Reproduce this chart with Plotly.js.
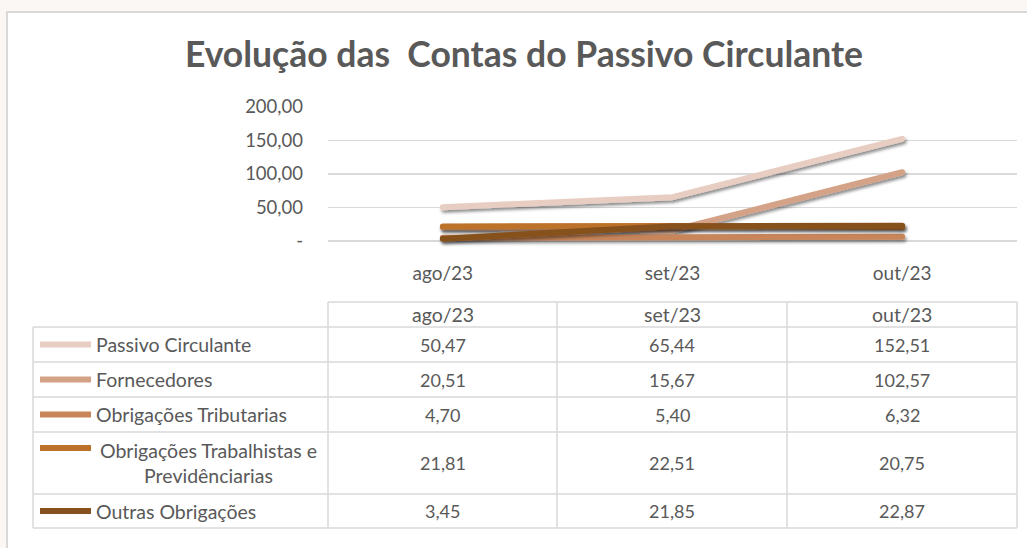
<!DOCTYPE html>
<html>
<head>
<meta charset="utf-8">
<script src="https://cdn.plot.ly/plotly-3.0.1.min.js"></script>
<style>
html,body{margin:0;padding:0;background:#fff;}
#chart{width:1027px;height:548px;}
.scatterlayer .js-line{filter:url(#sh);stroke-linecap:round;stroke-linejoin:round;}
</style>
</head>
<body>
<svg width="0" height="0" style="position:absolute">
  <defs>
    <filter id="sh" filterUnits="userSpaceOnUse" x="-200" y="-400" width="1500" height="1200">
      <feDropShadow dx="1.5" dy="2.5" stdDeviation="1.5" flood-color="#000" flood-opacity="0.45"/>
    </filter>
  </defs>
</svg>
<div id="chart"></div>
<script>
// ---- data ----
const categories = ['ago/23', 'set/23', 'out/23'];
const seriesNames = ['Passivo Circulante', 'Fornecedores', 'Obrigações Tributarias', 'Obrigações Trabalhistas e<br>Previdênciarias', 'Outras Obrigações'];
const passivoCirculante = [50.47, 65.44, 152.51];
const fornecedores = [20.51, 15.67, 102.57];
const obrigacoesTributarias = [4.70, 5.40, 6.32];
const obrigacoesTrabalhistas = [21.81, 22.51, 20.75];
const outrasObrigacoes = [3.45, 21.85, 22.87];
const yTickVals = [0, 50, 100, 150, 200];
const yTickText = ['-', '50,00', '100,00', '150,00', '200,00'];
const titleText = 'Evolução das  Contas do Passivo Circulante';

// ---- styling ----
const colors = ['#E8CDC2', '#D4A287', '#C8855A', '#BD7229', '#87511E'];
const seriesValues = [passivoCirculante, fornecedores, obrigacoesTributarias, obrigacoesTrabalhistas, outrasObrigacoes];
const W = 1027, H = 548;
const FONT = 'Lato, "Open Sans", sans-serif';
const TXT = '#595959';
const GRID = '#D9D9D9';
const px = x => x / W;
const py = y => 1 - y / H;

const traces = seriesValues.map((vals, i) => ({
  type: 'scatter', mode: 'lines', x: categories, y: vals,
  name: seriesNames[i], line: {color: colors[i], width: 6}, hoverinfo: 'skip'
}));

// table geometry (pixels)
const tblLeft = 33, labelRight = 328, colEdges = [328, 557, 787, 1017];
const headerTop = 302, rowEdges = [327, 362, 397, 432, 494, 528];
const shapes = [];
const annotations = [];
const ln = (x0, y0, x1, y1, c, w) => ({type: 'line', xref: 'paper', yref: 'paper', x0: px(x0), y0: py(y0), x1: px(x1), y1: py(y1), line: {color: c, width: w}, layer: 'below'});

// outer frame
shapes.push({type: 'rect', xref: 'paper', yref: 'paper', x0: px(7), y0: py(12), x1: px(1045), y1: py(570), fillcolor: '#FFFFFF', line: {color: '#D9D9D9', width: 2}, layer: 'below'});

// table lines
shapes.push(ln(labelRight, headerTop, colEdges[3], headerTop, GRID, 1.5));
rowEdges.forEach(y => shapes.push(ln(tblLeft, y, colEdges[3], y, GRID, 1.5)));
shapes.push(ln(tblLeft, rowEdges[0], tblLeft, rowEdges[rowEdges.length - 1], GRID, 1.5));
colEdges.forEach(x => shapes.push(ln(x, headerTop, x, rowEdges[rowEdges.length - 1], GRID, 1.5)));

const fmt = v => v.toFixed(2).replace('.', ',');
const nFont = {family: FONT, size: 18, color: TXT};
const lFont = {family: FONT, size: 19.5, color: TXT};
// header
categories.forEach((c, j) => {
  annotations.push({xref: 'paper', yref: 'paper', x: px((colEdges[j] + colEdges[j + 1]) / 2), y: py((headerTop + rowEdges[0]) / 2), text: c, showarrow: false, font: lFont, xanchor: 'center', yanchor: 'middle'});
});
// rows
seriesValues.forEach((vals, i) => {
  const yc = (rowEdges[i] + rowEdges[i + 1]) / 2;
  const multi = seriesNames[i].indexOf('<br>') >= 0;
  const keyY = multi ? rowEdges[i] + 16 : yc;
  shapes.push({type: 'line', xref: 'paper', yref: 'paper', x0: px(40), x1: px(91), y0: py(keyY), y1: py(keyY), line: {color: colors[i], width: 6}});
  annotations.push({xref: 'paper', yref: 'paper', x: multi ? px(208) : px(94), y: py(yc), text: seriesNames[i], showarrow: false, font: lFont, xanchor: multi ? 'center' : 'left', yanchor: 'middle', align: 'center'});
  vals.forEach((v, j) => {
    annotations.push({xref: 'paper', yref: 'paper', x: px((colEdges[j] + colEdges[j + 1]) / 2), y: py(yc), text: fmt(v), showarrow: false, font: nFont, xanchor: 'center', yanchor: 'middle'});
  });
});

// y range: 0 at y=241px, 200 at y=107px; extend below zero so thick lines are not clipped
const yMin = -10, yMax = 200;
const pxPerUnit = (241 - 107) / (yMax - 0);
const yBottomPx = 241 + (0 - yMin) * pxPerUnit;

const layout = {
  width: W, height: H,
  margin: {l: 0, r: 0, t: 0, b: 0},
  paper_bgcolor: '#FAF7F4', plot_bgcolor: 'rgba(0,0,0,0)',
  showlegend: false,
  title: {text: titleText, x: px(524), xanchor: 'center', y: py(55), yanchor: 'middle', font: {family: FONT, size: 35.5, color: TXT, weight: 'bold'}},
  xaxis: {domain: [px(328), px(1017)], range: [-0.5, 2.5], type: 'category', showgrid: false, zeroline: false, showline: false, ticks: '', tickfont: {family: FONT, size: 19, color: TXT}, ticklabelstandoff: 12, fixedrange: true},
  yaxis: {domain: [py(yBottomPx), py(107)], range: [yMin, yMax], tickvals: yTickVals, ticktext: yTickText, showgrid: true, gridcolor: GRID, gridwidth: 1.5, zeroline: false, showline: false, ticks: '', tickfont: {family: FONT, size: 18.5, color: TXT}, ticklabelstandoff: 24, fixedrange: true},
  shapes: shapes,
  annotations: annotations
};

Plotly.newPlot('chart', traces, layout, {displayModeBar: false, staticPlot: true});
</script>
</body>
</html>
